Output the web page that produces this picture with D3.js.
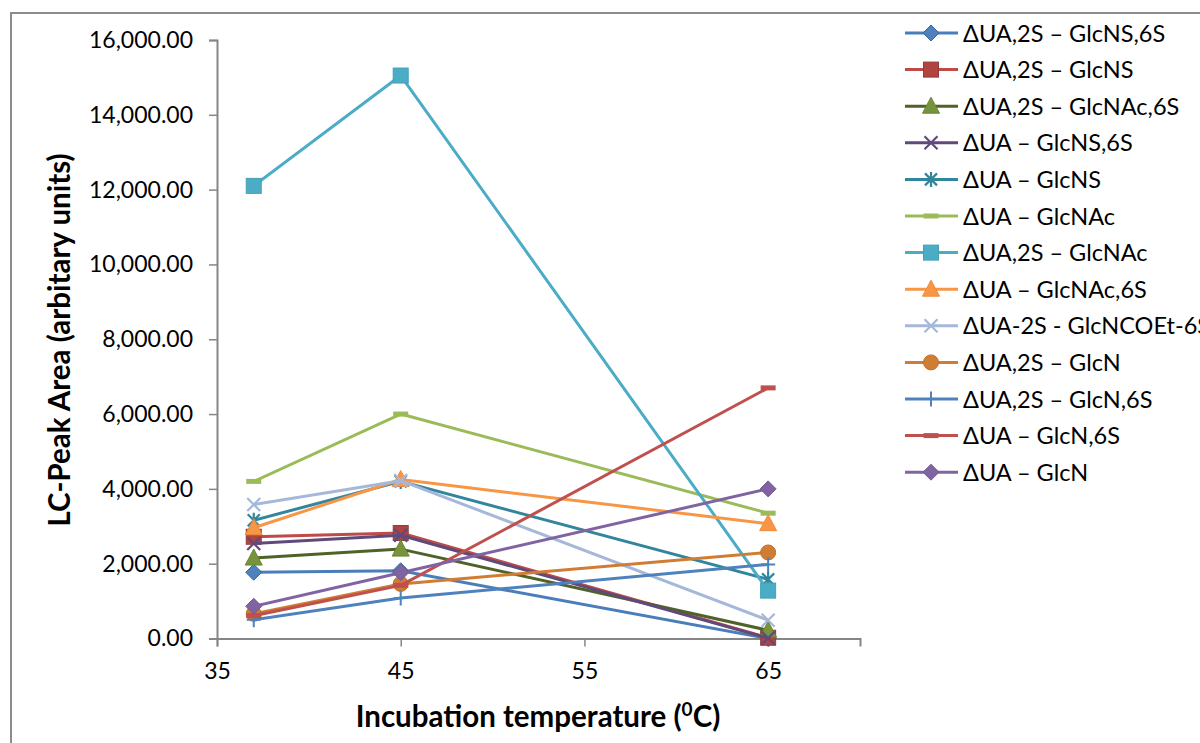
<!DOCTYPE html>
<html>
<head>
<meta charset="utf-8">
<script src="https://cdn.jsdelivr.net/npm/d3@7"></script>
<style>
  html, body { margin: 0; padding: 0; background: #fff; }
  svg { display: block; font-family: Lato, "Open Sans", sans-serif; }
</style>
</head>
<body>
<svg id="chart" width="1200" height="743"></svg>
<script>
// Incubation temperatures (°C)
const temperatures = [37, 45, 65];

// Disaccharide series names, in legend order
const seriesNames = [
  "ΔUA,2S – GlcNS,6S",
  "ΔUA,2S – GlcNS",
  "ΔUA,2S – GlcNAc,6S",
  "ΔUA – GlcNS,6S",
  "ΔUA – GlcNS",
  "ΔUA – GlcNAc",
  "ΔUA,2S – GlcNAc",
  "ΔUA – GlcNAc,6S",
  "ΔUA-2S - GlcNCOEt-6S",
  "ΔUA,2S – GlcN",
  "ΔUA,2S – GlcN,6S",
  "ΔUA – GlcN,6S",
  "ΔUA – GlcN"
];

// LC peak areas at 37, 45 and 65 °C
const peakAreas = [
  [1770, 1810, 0],
  [2720, 2820, 20],
  [2150, 2390, 220],
  [2540, 2760, 10],
  [3160, 4200, 1580],
  [4200, 6000, 3350],
  [12100, 15050, 1280],
  [2960, 4250, 3070],
  [3580, 4220, 490],
  [660, 1460, 2300],
  [500, 1080, 1980],
  [610, 1420, 6700],
  [860, 1760, 4000]
];

// Y axis tick values
const yTicks = [0, 2000, 4000, 6000, 8000, 10000, 12000, 14000, 16000];
// X axis tick values
const xTicks = [35, 45, 55, 65];

// Line colour, marker shape, marker fill and marker outline per series
const lineColors = ["#4A7EBB", "#BE4B48", "#4F6228", "#604A7B", "#31859C", "#9BBB59",
                    "#4BACC6", "#F79646", "#A5B8D9", "#D07C32", "#4F81BD", "#C0504D", "#8064A2"];
const markerShapes = ["diamond", "square", "triangle", "x", "star", "dash",
                      "square", "triangle", "x", "circle", "plus", "dash", "diamond"];
const markerFills = ["#4F81BD", "#B0443F", "#77933C", "#604A7B", "#31859C", "#9BBB59",
                     "#4BACC6", "#F79646", "#A5B8D9", "#D07C32", "#4F81BD", "#C0504D", "#8064A2"];
const markerStrokes = ["#3B6699", "#943C39", "#6B8536", "#604A7B", "#31859C", "#9BBB59",
                       "#44A0B8", "#F08A38", "#A5B8D9", "#C06F2A", "#4F81BD", "#C0504D", "#735A92"];

const svg = d3.select("#chart");

// Chart frame
svg.append("rect")
  .attr("x", 11).attr("y", 13)
  .attr("width", 1200).attr("height", 760)
  .attr("fill", "none")
  .attr("stroke", "#8C8C8C")
  .attr("stroke-width", 2);

const x = d3.scaleLinear().domain([35, 70]).range([217, 860]);
const y = d3.scaleLinear().domain([0, 16000]).range([638.5, 40]);

const axisColor = "#868686";

// Y axis
const yAxis = svg.append("g")
  .attr("transform", `translate(${x(35)},0)`)
  .call(d3.axisLeft(y).tickValues(yTicks).tickFormat(d3.format(",.2f")).tickSize(8).tickPadding(16));
yAxis.select(".domain").attr("stroke", axisColor).attr("stroke-width", 2);
yAxis.selectAll(".tick line").attr("stroke", axisColor).attr("stroke-width", 1.5);
yAxis.selectAll(".tick text")
  .attr("fill", "#000")
  .style("font-size", "23px")
  .style("font-family", "Lato, sans-serif");

// X axis
const xAxis = svg.append("g")
  .attr("transform", `translate(0,${y(0)})`)
  .call(d3.axisBottom(x).tickValues(xTicks).tickFormat(d3.format("d")).tickSize(8).tickPadding(16));
xAxis.select(".domain").attr("stroke", axisColor).attr("stroke-width", 2);
xAxis.selectAll(".tick line").attr("stroke", axisColor).attr("stroke-width", 1.5);
xAxis.selectAll(".tick text")
  .attr("fill", "#000")
  .style("font-size", "23px")
  .style("font-family", "Lato, sans-serif");

// Axis titles
svg.append("text")
  .attr("transform", "translate(70,340) rotate(-90)")
  .attr("text-anchor", "middle")
  .style("font-size", "29.5px")
  .style("font-weight", "bold")
  .text("LC-Peak Area (arbitary units)");

const xTitle = svg.append("text")
  .attr("x", 538).attr("y", 727)
  .attr("text-anchor", "middle")
  .style("font-size", "29.5px")
  .style("font-weight", "bold");
xTitle.append("tspan").text("Incubation temperature (");
xTitle.append("tspan").attr("dy", -11).style("font-size", "19px").text("0");
xTitle.append("tspan").attr("dy", 11).text("C)");

// Marker drawing
function drawMarker(g, shape, fill, stroke) {
  switch (shape) {
    case "diamond":
      g.append("path").attr("d", "M0,-8L8,0L0,8L-8,0Z").attr("fill", fill).attr("stroke", stroke).attr("stroke-width", 1);
      break;
    case "square":
      g.append("rect").attr("x", -7.5).attr("y", -7.5).attr("width", 15).attr("height", 15)
        .attr("fill", fill).attr("stroke", stroke).attr("stroke-width", 1);
      break;
    case "triangle":
      g.append("path").attr("d", "M0,-9L8.5,7L-8.5,7Z").attr("fill", fill).attr("stroke", stroke).attr("stroke-width", 1);
      break;
    case "circle":
      g.append("circle").attr("r", 7.5).attr("fill", fill).attr("stroke", stroke).attr("stroke-width", 1);
      break;
    case "x":
      g.append("path").attr("d", "M-6.5,-6.5L6.5,6.5M-6.5,6.5L6.5,-6.5")
        .attr("stroke", fill).attr("stroke-width", 2.2).attr("fill", "none");
      break;
    case "star":
      g.append("path").attr("d", "M-6,-6L6,6M-6,6L6,-6M0,-7.5L0,7.5")
        .attr("stroke", fill).attr("stroke-width", 2.2).attr("fill", "none");
      break;
    case "plus":
      g.append("path").attr("d", "M-7,0L7,0M0,-7.5L0,7.5")
        .attr("stroke", fill).attr("stroke-width", 2).attr("fill", "none");
      break;
    case "dash":
      g.append("rect").attr("x", -7.5).attr("y", -2.5).attr("width", 15).attr("height", 5)
        .attr("fill", fill);
      break;
  }
}

// Series lines and markers
const line = d3.line().x((d, i) => x(temperatures[i])).y(d => y(d));
const plot = svg.append("g");
seriesNames.forEach((name, s) => {
  const g = plot.append("g");
  g.append("path")
    .datum(peakAreas[s])
    .attr("d", line)
    .attr("fill", "none")
    .attr("stroke", lineColors[s])
    .attr("stroke-width", 3)
    .attr("stroke-linejoin", "round");
  peakAreas[s].forEach((v, i) => {
    const m = g.append("g").attr("transform", `translate(${x(temperatures[i])},${y(v)})`);
    drawMarker(m, markerShapes[s], markerFills[s], markerStrokes[s]);
  });
});

// Legend
const legend = svg.append("g");
seriesNames.forEach((name, s) => {
  const ly = 33 + s * 36.6;
  const row = legend.append("g").attr("transform", `translate(0,${ly})`);
  row.append("line")
    .attr("x1", 905).attr("x2", 958)
    .attr("stroke", lineColors[s]).attr("stroke-width", 3);
  const m = row.append("g").attr("transform", "translate(931,0)");
  drawMarker(m, markerShapes[s], markerFills[s], markerStrokes[s]);
  row.append("text")
    .attr("x", 963).attr("y", 8.5)
    .style("font-size", "23.5px")
    .text(name);
});
</script>
</body>
</html>
